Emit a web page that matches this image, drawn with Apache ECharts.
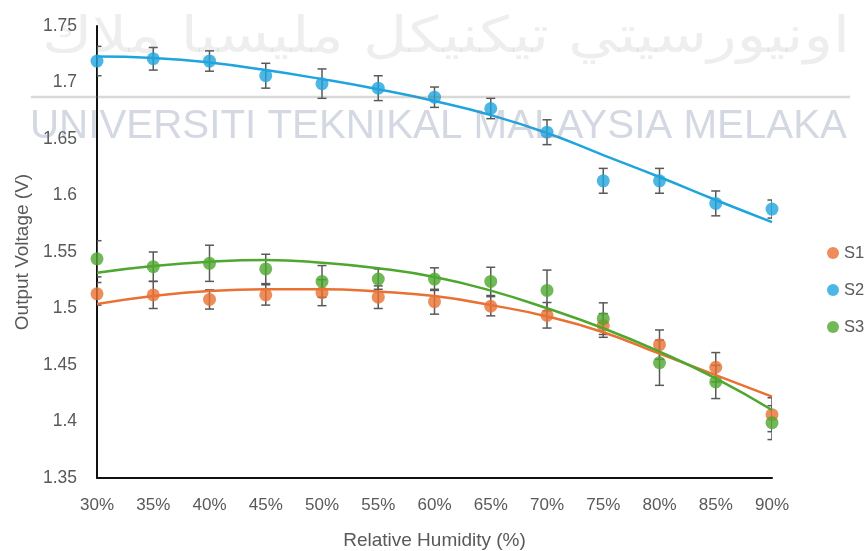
<!DOCTYPE html>
<html>
<head>
<meta charset="utf-8">
<script src="https://cdn.jsdelivr.net/npm/echarts@6/dist/echarts.min.js"></script>
<style>
  html, body { margin: 0; padding: 0; background: #fff; }
  #chart { width: 866px; height: 551px; }
</style>
</head>
<body>
<div id="chart"></div>
<script>
// Relative humidity steps (x axis)
const categories = ['30%', '35%', '40%', '45%', '50%', '55%', '60%', '65%', '70%', '75%', '80%', '85%', '90%'];

// Mean output voltage (V) per sensor
const s1 = [1.513, 1.512, 1.508, 1.512, 1.514, 1.510, 1.506, 1.502, 1.494, 1.485, 1.468, 1.448, 1.406];
const s2 = [1.719, 1.721, 1.719, 1.706, 1.699, 1.695, 1.687, 1.677, 1.656, 1.613, 1.613, 1.593, 1.588];
const s3 = [1.544, 1.537, 1.540, 1.535, 1.524, 1.526, 1.526, 1.524, 1.516, 1.491, 1.452, 1.435, 1.399];

// Error bar half-widths (V)
const s1Err = [0.010, 0.012, 0.0085, 0.009, 0.0115, 0.010, 0.011, 0.0085, 0.0113, 0.0105, 0.013, 0.013, 0.015];
const s2Err = [0.013, 0.010, 0.009, 0.011, 0.013, 0.011, 0.009, 0.009, 0.011, 0.011, 0.011, 0.011, 0.008];
const s3Err = [0.016, 0.013, 0.016, 0.013, 0.014, 0.009, 0.010, 0.0125, 0.018, 0.014, 0.020, 0.0147, 0.015];

// Polynomial trend line values at each humidity step (V)
const s1Fit = [1.504, 1.511, 1.5155, 1.517, 1.517, 1.515, 1.511, 1.503, 1.493, 1.479, 1.460, 1.441, 1.422];
const s2Fit = [1.723, 1.7217, 1.7177, 1.711, 1.703, 1.694, 1.6836, 1.6712, 1.6553, 1.6358, 1.6164, 1.596, 1.5765];
const s3Fit = [1.5317, 1.5376, 1.5414, 1.5429, 1.5405, 1.5356, 1.5279, 1.5158, 1.5002, 1.4825, 1.4618, 1.4382, 1.4102];

// Y axis range
const yMin = 1.35, yMax = 1.75, yStep = 0.05;

const COLORS = { S1: '#E97132', S2: '#1FA5DE', S3: '#4EA72E' };
const AXIS_TEXT = '#595959';
const FONT = '"Liberation Sans", Arial, sans-serif';

const watermarkLatin = 'UNIVERSITI TEKNIKAL MALAYSIA MELAKA';
const watermarkJawi = 'اونيورسيتي تيكنيكل مليسيا ملاك';

function errData(vals, errs) {
  return vals.map((v, i) => [i, v - errs[i], v + errs[i]]);
}

function renderErrorBar(params, api) {
  const i = api.value(0);
  const top = api.coord([i, api.value(2)]);
  const bot = api.coord([i, api.value(1)]);
  const half = 4.5;
  const style = { stroke: '#595959', lineWidth: 1.5 };
  return {
    type: 'group',
    children: [
      { type: 'line', shape: { x1: top[0], y1: top[1], x2: bot[0], y2: bot[1] }, style },
      { type: 'line', shape: { x1: top[0] - half, y1: top[1], x2: top[0] + half, y2: top[1] }, style },
      { type: 'line', shape: { x1: bot[0] - half, y1: bot[1], x2: bot[0] + half, y2: bot[1] }, style }
    ]
  };
}

function errorSeries(name, vals, errs) {
  return {
    name: name + ' error',
    type: 'custom',
    renderItem: renderErrorBar,
    data: errData(vals, errs),
    clip: true,
    silent: true,
    z: 2
  };
}

function pointSeries(name, vals) {
  return {
    name,
    type: 'scatter',
    data: vals,
    symbol: 'circle',
    symbolSize: 13,
    itemStyle: { color: COLORS[name] },
    z: 3
  };
}

function fitSeries(name, vals) {
  return {
    name: name + ' trend',
    type: 'line',
    data: vals,
    smooth: true,
    showSymbol: false,
    symbol: 'none',
    lineStyle: { color: COLORS[name], width: 2.5 },
    silent: true,
    z: 4
  };
}

// Fit the watermark lines to their spans with a horizontal scale
const measureCtx = document.createElement('canvas').getContext('2d');
const jawiFont = '50px "DejaVu Sans"';
measureCtx.font = jawiFont;
const jawiWidth = measureCtx.measureText(watermarkJawi).width || 800;
const jawiScale = 808 / jawiWidth;
measureCtx.font = '40px ' + FONT;
const latinWidth = measureCtx.measureText(watermarkLatin).width || 800;
const latinScale = 817 / latinWidth;

const chart = echarts.init(document.getElementById('chart'), null, { renderer: 'canvas' });

chart.setOption({
  animation: false,
  backgroundColor: '#ffffff',
  textStyle: { fontFamily: FONT },
  grid: { left: 97, right: 94, top: 26, bottom: 73, containLabel: false, outerBoundsMode: 'none' },
  legend: {
    data: ['S1', 'S2', 'S3'],
    orient: 'vertical',
    left: 827,
    top: 244,
    padding: 0,
    itemWidth: 12,
    itemHeight: 12,
    itemGap: 19,
    icon: 'circle',
    textStyle: { fontSize: 16.5, color: AXIS_TEXT, fontFamily: FONT, lineHeight: 18 }
  },
  xAxis: {
    type: 'category',
    data: categories,
    boundaryGap: false,
    name: 'Relative Humidity (%)',
    nameLocation: 'middle',
    nameGap: 53,
    nameTextStyle: { fontSize: 19, color: AXIS_TEXT, fontFamily: FONT },
    axisLine: { show: true, onZero: false, lineStyle: { color: '#111', width: 2 } },
    axisTick: { show: false },
    axisLabel: { color: AXIS_TEXT, fontSize: 17, margin: 19, fontFamily: FONT },
    splitLine: { show: false }
  },
  yAxis: {
    type: 'value',
    min: yMin,
    max: yMax,
    interval: yStep,
    name: 'Output Voltage (V)',
    nameLocation: 'middle',
    nameGap: 65,
    nameTextStyle: { fontSize: 19, color: AXIS_TEXT, fontFamily: FONT },
    axisLine: { show: true, lineStyle: { color: '#111', width: 2 } },
    axisTick: { show: false },
    axisLabel: { color: AXIS_TEXT, fontSize: 17.5, margin: 20, fontFamily: FONT },
    splitLine: { show: false }
  },
  series: [
    errorSeries('S1', s1, s1Err),
    errorSeries('S2', s2, s2Err),
    errorSeries('S3', s3, s3Err),
    pointSeries('S1', s1),
    pointSeries('S2', s2),
    pointSeries('S3', s3),
    fitSeries('S1', s1Fit),
    fitSeries('S2', s2Fit),
    fitSeries('S3', s3Fit)
  ],
  graphic: [
    {
      type: 'text',
      silent: true,
      z: 100,
      x: 850,
      y: 64,
      scaleX: jawiScale,
      style: {
        text: watermarkJawi,
        font: jawiFont,
        fill: 'rgba(120,120,120,0.13)',
        textAlign: 'right',
        textVerticalAlign: 'bottom'
      }
    },
    {
      type: 'line',
      silent: true,
      z: 100,
      shape: { x1: 31, y1: 97, x2: 850, y2: 97 },
      style: { stroke: 'rgba(120,120,120,0.28)', lineWidth: 2.5 }
    },
    {
      type: 'text',
      silent: true,
      z: 100,
      x: 30,
      y: 127,
      scaleX: latinScale,
      style: {
        text: watermarkLatin,
        font: '40px ' + FONT,
        fill: 'rgba(110,127,160,0.3)',
        textAlign: 'left',
        textVerticalAlign: 'middle'
      }
    }
  ]
});
</script>
</body>
</html>
